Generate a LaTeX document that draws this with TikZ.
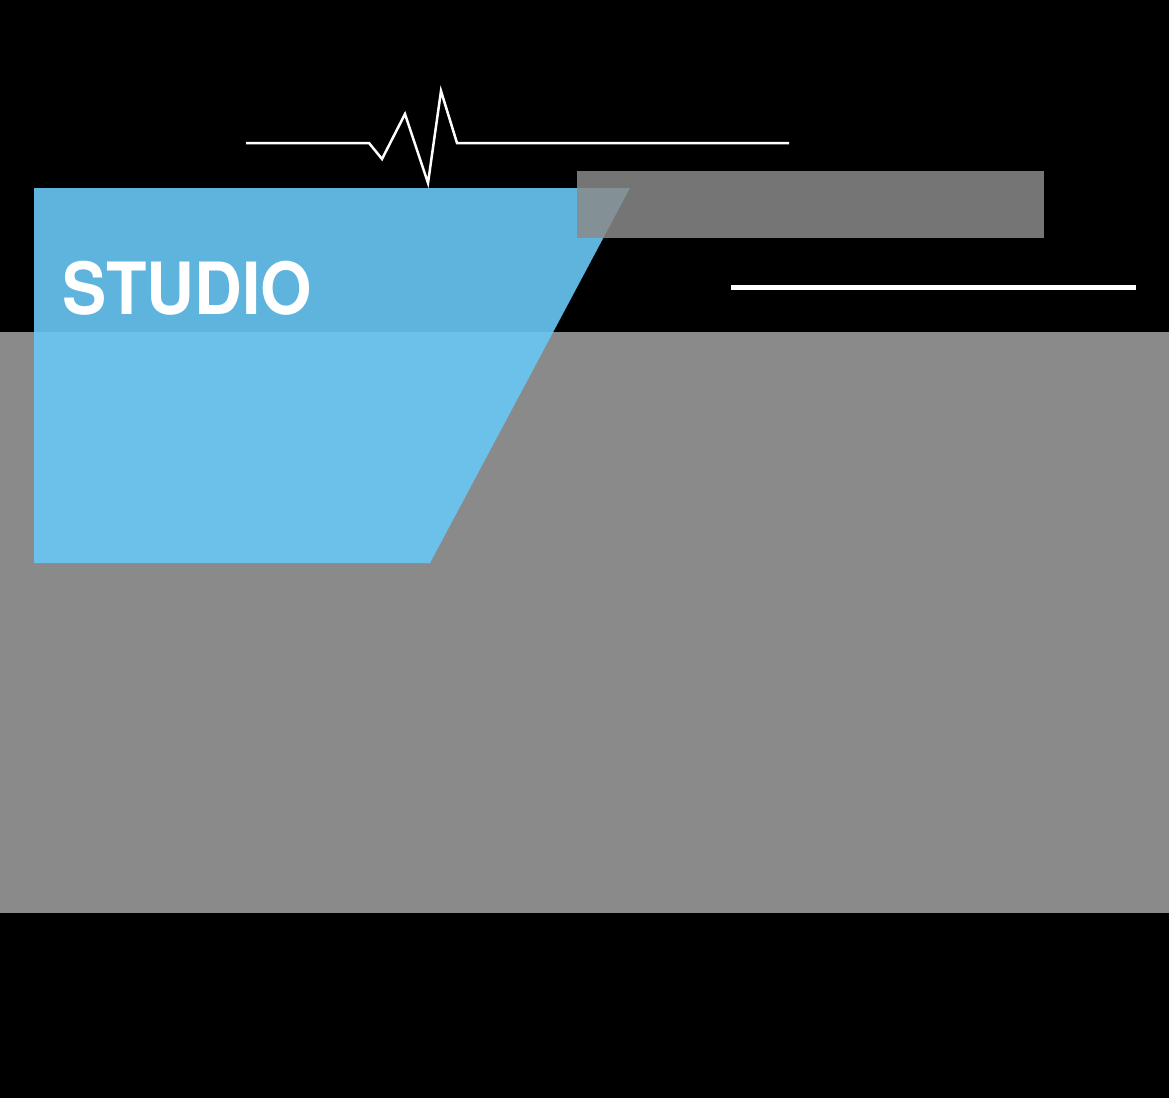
\documentclass[tikz,border=0pt]{standalone}
\usepackage{fontspec}
\setmainfont{TeX Gyre Heros}
\definecolor{bgblack}{HTML}{000000}
\definecolor{panelgray}{HTML}{8A8A8A}
\definecolor{skyblue}{HTML}{69C8F5}
\begin{document}
\begin{tikzpicture}[x=1pt,y=-1pt]
		\tikzset{pulse/.style={white, line width=2.5pt, line join=miter},
			bar/.style={white, line width=5pt}}
		% background
		\fill[bgblack] (0,0) rectangle (1169,1098);
		\useasboundingbox (0,0) rectangle (1169,1098);
		% big gray panel
		\fill[panelgray] (0,332) rectangle (1169,913);
		% blue trapezoid
		\fill[skyblue, opacity=0.9] (34,188) -- (630,188) -- (430,563) -- (34,563) -- cycle;
		% small gray bar
		\fill[panelgray, opacity=0.85] (577,171) rectangle (1044,238);
		% heartbeat line
		\draw[pulse] (246,143) -- (369,143) -- (382,159) -- (405,114) -- (428,183) -- (441,91) -- (457,143) -- (789,143);
		% white bar
		\draw[bar] (731,287) -- (1136,287);
		% title
		\node[anchor=base west, inner sep=0pt, white, font=\bfseries\fontsize{72}{72}\selectfont, xscale=0.92] (title) at (62,314) {STUDIO};
	\end{tikzpicture}
\end{document}
